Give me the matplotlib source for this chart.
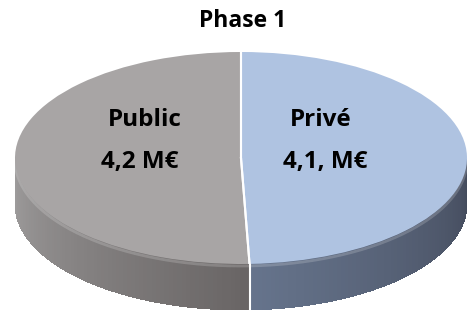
import numpy as np
import matplotlib
matplotlib.use("Agg")
import matplotlib.pyplot as plt
from matplotlib.patches import Polygon
from matplotlib.colors import to_rgb

# ---- data ----
title = "Phase 1"
categories = ["Privé", "Public"]
values = [4.1, 4.2]
value_labels = ["4,1, M€", "4,2 M€"]
top_colors = ["#AFC3E1", "#A8A5A5"]
side_colors_light = ["#66748C", "#A09E9E"]
side_colors_dark = ["#434A5B", "#686464"]

W, H = 470, 314
fig = plt.figure(figsize=(W / 100, H / 100), dpi=100)
fig.patch.set_facecolor("white")

# geometry in pixels (origin bottom-left)
cx, cy = 241, 314 - 158
a, b = 226, 106
depth = 46

ax0 = fig.add_axes([0, 0, 1, 1])
ax0.set_xlim(0, W)
ax0.set_ylim(0, H)
ax0.axis("off")

total = sum(values)
angles = []
start = 90.0
for v in values:
    sweep = 360.0 * v / total
    angles.append((start - sweep, start))
    start -= sweep

def mix(c1, c2, t):
    c1, c2 = np.array(to_rgb(c1)), np.array(to_rgb(c2))
    return tuple(c1 + (c2 - c1) * t)

for i, (t1, t2) in enumerate(angles):
    segs = []
    for off in (0, -360, 360):
        l2, h2 = t1 + off, t2 + off
        fl, fh = max(l2, -180), min(h2, 0)
        if fh > fl:
            segs.append((fl, fh))
    for fl, fh in segs:
        n = 80
        th = np.linspace(fl, fh, n + 1)
        for k in range(n):
            ta = np.radians(th[k])
            tb = np.radians(th[k + 1] + (0.3 if k < n - 1 else 0))
            xs = [cx + a * np.cos(ta), cx + a * np.cos(tb), cx + a * np.cos(tb), cx + a * np.cos(ta)]
            ys = [cy + b * np.sin(ta), cy + b * np.sin(tb), cy + b * np.sin(tb) - depth, cy + b * np.sin(ta) - depth]
            t = (th[k] - fl) / (fh - fl)
            c = mix(side_colors_light[i], side_colors_dark[i], t)
            ax0.add_patch(Polygon(list(zip(xs, ys)), closed=True, facecolor=c,
                                  edgecolor="none", antialiased=False))

split = np.radians(angles[0][0])
sx, sy = cx + a * np.cos(split), cy + b * np.sin(split)
ax0.plot([sx, sx], [sy, sy - depth], color="white", lw=1.5)

# subtle rim highlight on the front edge of the top
th = np.radians(np.linspace(-180, 0, 200))
ax0.plot(cx + a * np.cos(th), cy + b * np.sin(th) - 2, color="white", lw=2.0, alpha=0.18)

# top ellipse via pie on an axes stretched to the ellipse box
ax1 = fig.add_axes([(cx - a) / W, (cy - b) / H, 2 * a / W, 2 * b / H])
wedges, _ = ax1.pie(values, colors=top_colors, startangle=90, counterclock=False,
                    radius=1.0, wedgeprops=dict(edgecolor="none", linewidth=0))
for w in wedges:
    for ang in (w.theta1, w.theta2):
        r = np.radians(ang)
        ax1.plot([0, np.cos(r)], [0, np.sin(r)], color="white", lw=1.5)
ax1.set_aspect("auto")
ax1.set_xlim(-1, 1)
ax1.set_ylim(-1, 1)
ax1.axis("off")

fam = ["Open Sans", "DejaVu Sans"]
label_pos = {"Privé": (321, 120, 325, 162), "Public": (145, 120, 140, 162)}
for cat, vl in zip(categories, value_labels):
    x1, y1, x2, y2 = label_pos[cat]
    fig.text(x1 / W, 1 - y1 / H, cat, ha="center", va="center", fontsize=17.5,
             fontweight="bold", family=fam, color="black")
    fig.text(x2 / W, 1 - y2 / H, vl, ha="center", va="center", fontsize=17.5,
             fontweight="bold", family=fam, color="black")

fig.text(243 / W, 1 - 21 / H, title, ha="center", va="center", fontsize=16.5,
         fontweight="bold", family=fam, color="black")

fig.savefig("out.png", dpi=100)
